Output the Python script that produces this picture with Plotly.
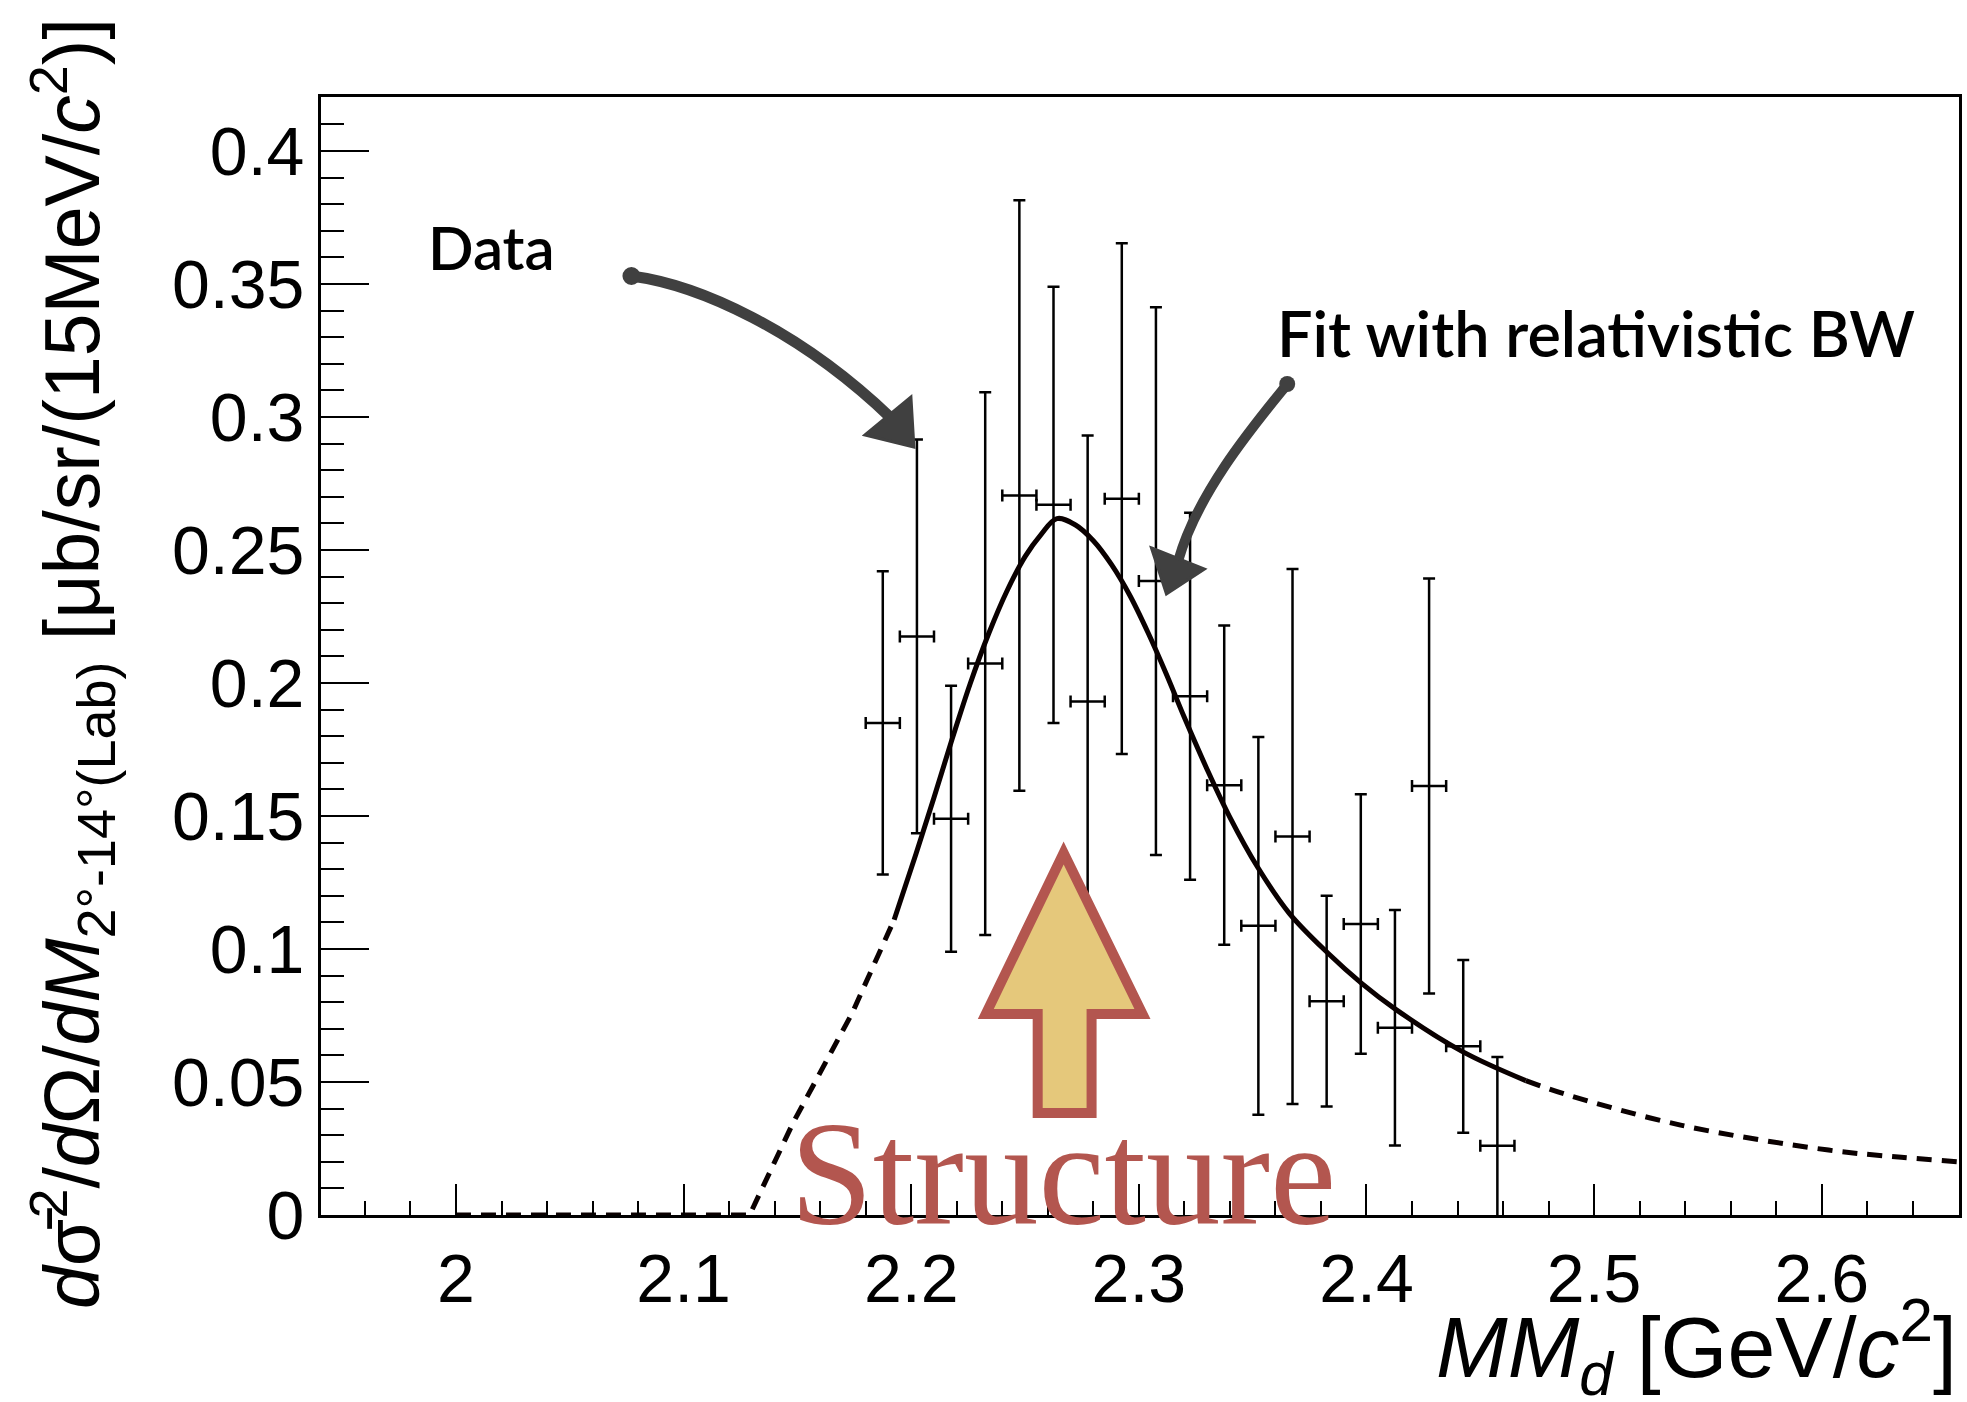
import plotly.graph_objects as go

# ---- measured spectrum (bin centres in GeV/c^2, 15 MeV bins) ----
mm_d = [2.1875, 2.2025, 2.2175, 2.2325, 2.2475, 2.2625, 2.2775, 2.2925, 2.3075, 2.3225,
        2.3375, 2.3525, 2.3675, 2.3825, 2.3975, 2.4125, 2.4275, 2.4425, 2.4575]
xsec = [0.185, 0.2175, 0.149, 0.2073, 0.2705, 0.267, 0.193, 0.2693, 0.2383, 0.195,
        0.1616, 0.1087, 0.1423, 0.0804, 0.1094, 0.0704, 0.1613, 0.0634, 0.026]
xsec_err = [0.057, 0.074, 0.050, 0.102, 0.111, 0.082, 0.100, 0.096, 0.103, 0.069,
            0.060, 0.071, 0.1006, 0.0396, 0.0488, 0.0443, 0.078, 0.0325, 0.0334]
bin_half_width = [0.0075] * len(mm_d)

# ---- relativistic Breit-Wigner fit curve ----
fit_x = [2.000, 2.129, 2.148, 2.156, 2.174, 2.1925, 2.202, 2.210, 2.218, 2.226,
         2.234, 2.242, 2.250, 2.257, 2.264, 2.272, 2.280, 2.288, 2.296, 2.304,
         2.312, 2.320, 2.330, 2.340, 2.352, 2.366, 2.383, 2.398, 2.413, 2.442,
         2.470, 2.487, 2.538, 2.603, 2.635, 2.660]
fit_y = [0.0, 0.0, 0.0345, 0.047, 0.0758, 0.111, 0.1355, 0.157, 0.179, 0.200,
         0.2185, 0.2345, 0.2475, 0.2558, 0.2618, 0.2595, 0.2535, 0.2445, 0.233, 0.219,
         0.2035, 0.187, 0.1675, 0.1495, 0.131, 0.1135, 0.0985, 0.0870, 0.0772, 0.0615,
         0.0505, 0.0455, 0.0338, 0.0244, 0.0217, 0.0200]
fit_range = (2.1925, 2.470)   # solid inside the fit range, dashed outside

x_tick_vals = [2.0, 2.1, 2.2, 2.3, 2.4, 2.5, 2.6]
x_tick_text = ["2", "2.1", "2.2", "2.3", "2.4", "2.5", "2.6"]
y_tick_vals = [0, 0.05, 0.1, 0.15, 0.2, 0.25, 0.3, 0.35, 0.4]
y_tick_text = ["0", "0.05", "0.1", "0.15", "0.2", "0.25", "0.3", "0.35", "0.4"]

# ---- page geometry ----
WIDTH, HEIGHT = 1967, 1402
L, R, T, B = 321, 1962, 97, 1215
PW, PH = R - L, B - T


def to_paper(x, y):
    return (x - L) / PW, (B - y) / PH


def pt(p):
    return "%.5f,%.5f" % to_paper(*p)


def polygon_path(points):
    s = "M " + pt(points[0])
    for p in points[1:]:
        s += " L " + pt(p)
    return s + " Z"


def bezier_path(start, c1, c2, end):
    return "M %s C %s %s %s" % (pt(start), pt(c1), pt(c2), pt(end))


fig = go.Figure()

# data with error bars
fig.add_trace(go.Scatter(
    x=mm_d, y=xsec, mode="markers",
    marker=dict(size=2, color="black"),
    error_y=dict(type="data", array=xsec_err, symmetric=True,
                 thickness=2.5, width=6, color="black"),
    error_x=dict(type="data", array=bin_half_width, symmetric=True,
                 thickness=2.5, width=6, color="black"),
    showlegend=False, hoverinfo="skip",
))

# fit curve: dashed / solid / dashed
lo, hi = fit_range
left = [(x, y) for x, y in zip(fit_x, fit_y) if x <= lo]
mid = [(x, y) for x, y in zip(fit_x, fit_y) if lo <= x <= hi]
right = [(x, y) for x, y in zip(fit_x, fit_y) if x >= hi]
for seg, dash, shape in ((left, "15px,10px", "linear"),
                         (mid, "solid", "spline"),
                         (right, "15px,10px", "spline")):
    fig.add_trace(go.Scatter(
        x=[p[0] for p in seg], y=[p[1] for p in seg], mode="lines",
        line=dict(color="#0a0000", width=5, dash=dash, shape=shape, smoothing=1.0),
        showlegend=False, hoverinfo="skip",
    ))

shapes = []
# "Structure" block arrow
shapes.append(dict(
    type="path", xref="paper", yref="paper", layer="above",
    path=polygon_path([(1065, 853), (1144, 1014), (1093, 1014), (1093, 1113),
                       (1039, 1113), (1039, 1014), (987, 1014)]),
    fillcolor="#e5c87b", line=dict(color="#b3564f", width=10),
))

ARROW = "#404040"
# "Data" pointer
shapes.append(dict(
    type="path", xref="paper", yref="paper", layer="above",
    path=bezier_path((632, 276), (700, 285), (800, 330), (892, 418)),
    line=dict(color=ARROW, width=11),
))
shapes.append(dict(
    type="path", xref="paper", yref="paper", layer="above",
    path=polygon_path([(866, 435), (912, 397), (915, 447)]),
    fillcolor=ARROW, line=dict(color=ARROW, width=3),
))
# "Fit" pointer
shapes.append(dict(
    type="path", xref="paper", yref="paper", layer="above",
    path=bezier_path((1290, 383), (1260, 420), (1200, 490), (1180, 560)),
    line=dict(color=ARROW, width=10),
))
shapes.append(dict(
    type="path", xref="paper", yref="paper", layer="above",
    path=polygon_path([(1153, 548), (1206, 569), (1168, 594)]),
    fillcolor=ARROW, line=dict(color=ARROW, width=3),
))
for cx, cy, r in ((632, 276, 9), (1289, 384, 8)):
    x0, y0 = to_paper(cx - r, cy + r)
    x1, y1 = to_paper(cx + r, cy - r)
    shapes.append(dict(type="circle", xref="paper", yref="paper", layer="above",
                       x0=x0, y0=y0, x1=x1, y1=y1,
                       fillcolor=ARROW, line=dict(color=ARROW, width=0)))

annotations = []
lab_font = dict(family="Lato, 'Open Sans', sans-serif", size=60, color="black", weight=600)
ax_, ay_ = to_paper(426, 247)
annotations.append(dict(text="Data", xref="paper", yref="paper", x=ax_, y=ay_,
                        xanchor="left", yanchor="middle", showarrow=False, font=lab_font))
ax_, ay_ = to_paper(1277, 332)
annotations.append(dict(text="Fit with relativistic BW", xref="paper", yref="paper",
                        x=ax_, y=ay_, xanchor="left", yanchor="middle", showarrow=False,
                        font=dict(lab_font, size=63)))
ax_, ay_ = to_paper(789, 1173)
annotations.append(dict(text="Structure", xref="paper", yref="paper", x=ax_, y=ay_,
                        xanchor="left", yanchor="middle", showarrow=False,
                        font=dict(family="Liberation Serif, serif", size=149, color="#b3564f")))

# axis titles
title_font = dict(family="Liberation Sans, Arial, sans-serif", size=86, color="black")
ax_, ay_ = to_paper(1962, 1410)
annotations.append(dict(
    text="<i>MM</i><sub><i>d</i></sub> [GeV/<i>c</i><sup>2</sup>]",
    xref="paper", yref="paper", x=ax_, y=ay_, xanchor="right", yanchor="bottom",
    showarrow=False, font=title_font))
ax_, ay_ = to_paper(72, 16)
annotations.append(dict(
    text=("<i>d</i>\u03c3\u0304<sup>2</sup>/<i>d</i>\u03a9/<i>dM</i>"
          "<sub>2\u00b0-14\u00b0(Lab)</sub> [\u03bcb/sr/(15MeV/<i>c</i><sup>2</sup>)]"),
    xref="paper", yref="paper", x=ax_, y=ay_, xanchor="center", yanchor="top",
    textangle=-90, showarrow=False, font=dict(title_font, size=77)))

tick_font = dict(family="Liberation Sans, Arial, sans-serif", size=68, color="black")
axis_common = dict(showline=True, linecolor="black", linewidth=3, mirror=True,
                   showgrid=False, zeroline=False, ticks="inside", tickcolor="black",
                   tickwidth=2, tickfont=tick_font, tickmode="array")

fig.update_layout(
    width=WIDTH, height=HEIGHT,
    margin=dict(l=L, r=WIDTH - R, t=T, b=HEIGHT - B, pad=0),
    paper_bgcolor="white", plot_bgcolor="white",
    showlegend=False,
    xaxis=dict(axis_common, range=[1.9407, 2.6603], tickvals=x_tick_vals,
               ticktext=x_tick_text, ticklen=31, ticklabelstandoff=2,
               minor=dict(tickmode="linear", tick0=2.0, dtick=0.02, ticklen=14,
                          tickwidth=2, tickcolor="black", ticks="inside")),
    yaxis=dict(axis_common, range=[0, 0.4203], tickvals=y_tick_vals,
               ticktext=y_tick_text, ticklen=48, ticklabelstandoff=0,
               minor=dict(tickmode="linear", tick0=0, dtick=0.01, ticklen=23,
                          tickwidth=2, tickcolor="black", ticks="inside")),
    shapes=shapes, annotations=annotations,
)

fig.write_html("out.html")
